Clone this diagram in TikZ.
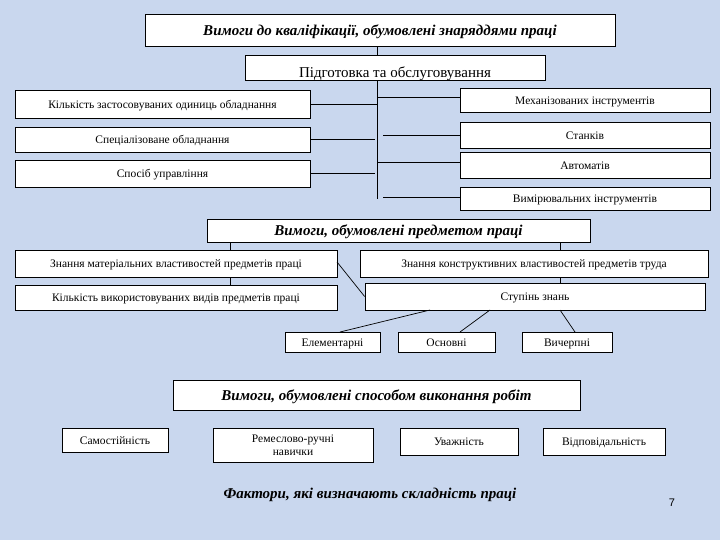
\documentclass[tikz,border=0pt]{standalone}
\usepackage{fontspec}
\setmainfont{Liberation Serif}
\newfontfamily\sansf{Liberation Sans}
\definecolor{bg}{HTML}{C9D7EE}
\begin{document}
\begin{tikzpicture}[x=1pt,y=-1pt,
  bx/.style={draw,fill=white,line width=0.8pt,inner sep=0pt,font=\fontsize{11.5}{13}\selectfont},
  ttl/.style={bx,font=\fontsize{15}{17}\selectfont\bfseries\itshape},
  ln/.style={line width=0.7pt}]
\fill[bg] (0,0) rectangle (720,540);
\useasboundingbox (0,0) rectangle (720,540);
\newcommand\bxat[7]{\node[#1,minimum width=#4-#2,minimum height=#5-#3] (#6) at ({(#2+#4)/2},{(#3+#5)/2}) {\raisebox{-0.35em}[0pt][0pt]{#7}}}
\coordinate (v1) at (377,46);
\coordinate (v2) at (377,199);
\draw[ln] (v1) -- (v2);
\bxat{ttl}{145}{14}{615}{46}{t1}{Вимоги до кваліфікації, обумовлені знаряддями праці};
\bxat{bx}{245}{55}{545}{80}{p}{};
\node[font=\fontsize{15}{17}\selectfont,anchor=base] (pt) at (395,78) {Підготовка та обслуговування};
\bxat{bx}{15}{90}{310}{118}{l1}{Кількість застосовуваних одиниць обладнання};
\bxat{bx}{15}{127}{310}{152}{l2}{Спеціалізоване обладнання};
\bxat{bx}{15}{160}{310}{187}{l3}{Спосіб управління};
\bxat{bx}{460}{88}{710}{112}{r1}{Механізованих інструментів};
\bxat{bx}{460}{122}{710}{148}{r2}{Станків};
\bxat{bx}{460}{152}{710}{178}{r3}{Автоматів};
\bxat{bx}{460}{187}{710}{210}{r4}{Вимірювальних інструментів};
\draw[ln] (l1.east) -- (l1.east -| v1);
\draw[ln] (l2.east) -- ++(65,0);
\draw[ln] (l3.east) -- ++(65,0);
\draw[ln] (r1.west) ++(0,-3) -- ++(-83,0);
\draw[ln] (r2.west) -- ++(-77,0);
\draw[ln] (r3.west) ++(0,-3) -- ++(-83,0);
\draw[ln] (r4.west) ++(0,-1) -- ++(-77,0);
\draw[ln] (230,242) -- (230,250);
\draw[ln] (230,277) -- (230,285);
\draw[ln] (560,242) -- (560,250);
\draw[ln] (560,277) -- (560,283);
\bxat{ttl}{207}{219}{590}{242}{t2}{Вимоги, обумовлені предметом праці};
\bxat{bx}{15}{250}{337}{277}{m1}{Знання матеріальних властивостей предметів праці};
\bxat{bx}{15}{285}{337}{310}{m2}{Кількість використовуваних видів предметів праці};
\bxat{bx}{360}{250}{708}{277}{k1}{Знання конструктивних властивостей предметів труда};
\bxat{bx}{365}{283}{705}{310}{k2}{Ступінь знань};
\draw[ln] (337,262) -- (k2.west);
\bxat{bx}{285}{332}{380}{352}{e}{Елементарні};
\bxat{bx}{398}{332}{495}{352}{o}{Основні};
\bxat{bx}{522}{332}{612}{352}{w}{Вичерпні};
\draw[ln] (430,310) -- (340,332);
\draw[ln] (490,310) -- (460,332);
\draw[ln] (560,310) -- (575,332);
\bxat{ttl}{173}{380}{580}{410}{t3}{Вимоги, обумовлені способом виконання робіт};
\bxat{bx}{62}{428}{168}{452}{s1}{Самостійність};
\node[bx,minimum width=160,minimum height=34,align=center] (s2) at (293,445) {Ремеслово-ручні\\навички};
\bxat{bx}{400}{428}{518}{455}{s3}{Уважність};
\bxat{bx}{543}{428}{665}{455}{s4}{Відповідальність};
\node[font=\fontsize{15}{17}\selectfont\bfseries\itshape] (f) at (370,495) {Фактори, які визначають складність праці};
\node[font=\sansf\fontsize{11}{12}\selectfont] (n) at (672,503) {7};
\end{tikzpicture}
\end{document}
